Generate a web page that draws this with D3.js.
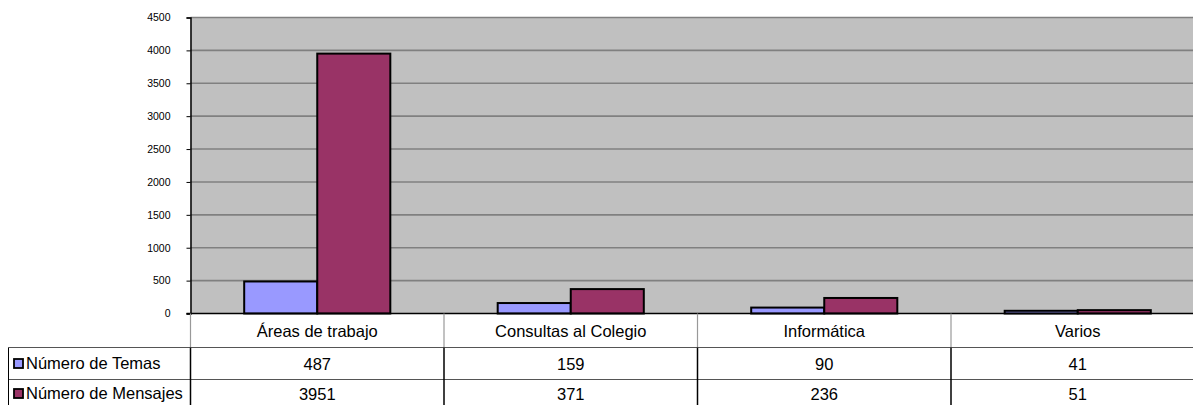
<!DOCTYPE html>
<html><head><meta charset="utf-8">
<script src="https://cdn.jsdelivr.net/npm/d3@7"></script>
<style>body{margin:0;background:#fff;overflow:hidden}svg{display:block;font-family:"Liberation Sans",Arial,sans-serif}</style>
</head><body><svg id="c" width="1193" height="405"></svg>
<script>
const categories = ["Áreas de trabajo", "Consultas al Colegio", "Informática", "Varios"];
const seriesNames = ["Número de Temas", "Número de Mensajes"];
const temas = [487, 159, 90, 41];
const mensajes = [3951, 371, 236, 51];
const yTicks = [0, 500, 1000, 1500, 2000, 2500, 3000, 3500, 4000, 4500];
const colors = ["#9999FF", "#993366"];

const svg = d3.select("#c");
const x0 = 190.5, x1 = 1204.5, yTop = 17.5, yBot = 313.5;
const x = d3.scaleBand().domain(categories).range([x0, x1]).paddingInner(0).paddingOuter(0);
const xs = d3.scaleBand().domain(seriesNames).range([0, x.bandwidth()]).paddingInner(0).paddingOuter(0.735);
const y = d3.scaleLinear().domain([0, 4500]).range([yBot, yTop]);

svg.append("rect").attr("x", x0).attr("y", yTop).attr("width", x1 - x0).attr("height", yBot - yTop).attr("fill", "#C0C0C0");
svg.append("g").selectAll("line").data(yTicks.filter(d => d > 0)).join("line")
  .attr("x1", x0).attr("x2", x1).attr("y1", d => y(d)).attr("y2", d => y(d))
  .attr("stroke", "#808080").attr("stroke-width", 1.6);

const data = categories.map((c, i) => ({c, vals: [temas[i], mensajes[i]]}));
const g = svg.append("g");
data.forEach(d => {
  d.vals.forEach((v, j) => {
    g.append("rect")
      .attr("x", x(d.c) + xs(seriesNames[j]))
      .attr("y", y(v))
      .attr("width", xs.bandwidth())
      .attr("height", yBot - y(v))
      .attr("fill", colors[j]).attr("stroke", "#000").attr("stroke-width", 2);
  });
});

const yAxis = d3.axisLeft(y).tickValues(yTicks).tickFormat(d3.format("d")).tickSize(4).tickPadding(16);
const ya = svg.append("g").attr("transform", `translate(${x0},0)`).call(yAxis);
ya.select(".domain").attr("stroke", "#000").attr("stroke-width", 1.5);
ya.selectAll(".tick line").attr("stroke", "#000");
ya.selectAll("text").attr("font-size", 10.5).attr("fill", "#000").attr("font-family", '"Liberation Sans",Arial,sans-serif');
svg.append("line").attr("x1", x0 - 4).attr("x2", x1).attr("y1", yBot).attr("y2", yBot).attr("stroke", "#000").attr("stroke-width", 1.5);

const row0 = yBot, row1 = 347.5, row2 = 379.5, row3 = 411.5, tLeft = 8.5;
const fs = 16.5;
const t = svg.append("g");
[row1, row2].forEach(r => t.append("line").attr("x1", tLeft).attr("x2", x1).attr("y1", r).attr("y2", r).attr("stroke", "#555").attr("stroke-width", 1));
t.append("line").attr("x1", tLeft).attr("x2", tLeft).attr("y1", row1).attr("y2", row3).attr("stroke", "#000");
const seps = [x0].concat(categories.slice(1).map(c => x(c)));
seps.forEach(sx => {
  t.append("line").attr("x1", sx).attr("x2", sx).attr("y1", row0).attr("y2", row1).attr("stroke", "#999").attr("stroke-width", 1.2);
  t.append("line").attr("x1", sx).attr("x2", sx).attr("y1", row1).attr("y2", row3).attr("stroke", "#000").attr("stroke-width", 1.5);
});
t.selectAll("text.cat").data(categories).join("text").attr("class", "cat")
  .attr("x", d => x(d) + x.bandwidth() / 2).attr("y", (row0 + row1) / 2 + 6)
  .attr("text-anchor", "middle").attr("font-size", fs).text(d => d);
[temas, mensajes].forEach((arr, j) => {
  const ry = j === 0 ? (row1 + row2) / 2 + 6 : row2 + 20;
  t.selectAll("text.v" + j).data(arr).join("text").attr("class", "v" + j)
    .attr("x", (d, i) => x(categories[i]) + x.bandwidth() / 2).attr("y", ry)
    .attr("text-anchor", "middle").attr("font-size", fs).text(d => d);
  const ky = j === 0 ? (row1 + row2) / 2 : row2 + 14;
  t.append("rect").attr("x", 14).attr("y", ky - 4.5).attr("width", 9).attr("height", 9)
    .attr("fill", colors[j]).attr("stroke", "#000").attr("stroke-width", 1.8);
  t.append("text").attr("x", 26).attr("y", ky + 5.5).attr("font-size", fs).text(seriesNames[j]);
});
</script></body></html>
